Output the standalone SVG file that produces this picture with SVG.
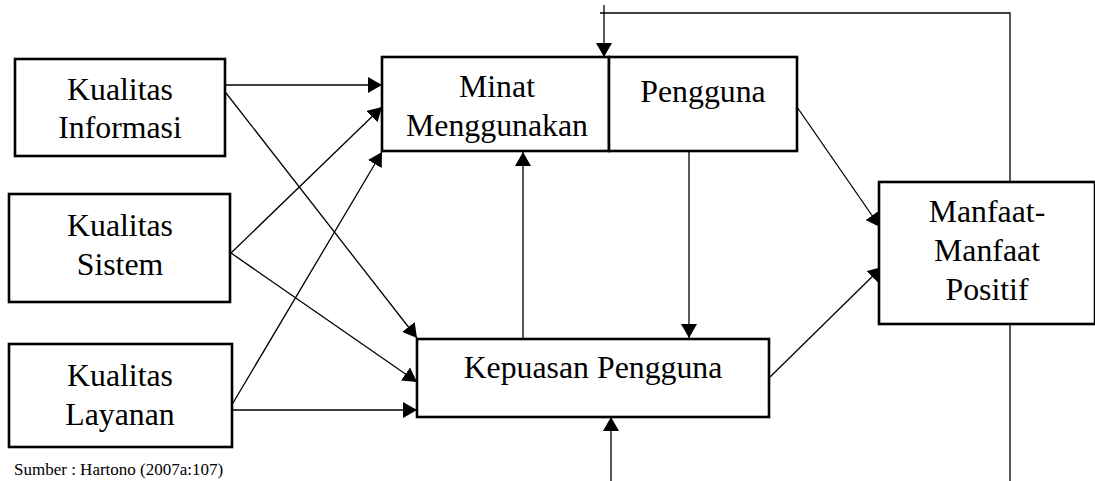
<svg xmlns="http://www.w3.org/2000/svg" width="1095" height="481" viewBox="0 0 1095 481">
<style>
.box{fill:#fff;stroke:#000;stroke-width:2.6}
.t{font-family:"Liberation Serif","Times New Roman",serif;font-size:31.8px;fill:#000;text-anchor:middle}
.src{font-family:"Liberation Serif","Times New Roman",serif;font-size:17px;fill:#000}
.c{stroke:#000;stroke-width:1.3;fill:none}
.a{marker-end:url(#ah)}
</style>
<defs>
<marker id="ah" markerUnits="userSpaceOnUse" markerWidth="15" markerHeight="16" refX="14" refY="8" orient="auto" viewBox="0 0 15 16">
<path d="M0,0 L14,8 L0,16 z" fill="#000"/>
</marker>
</defs>
<rect width="1095" height="481" fill="#fff"/>
<g id="connectors">
<line class="c a" x1="225" y1="85" x2="382" y2="85"/>
<line class="c a" x1="226" y1="93" x2="417" y2="338"/>
<line class="c a" x1="231" y1="253" x2="382" y2="107"/>
<line class="c a" x1="231" y1="253" x2="417" y2="382"/>
<line class="c a" x1="233" y1="403" x2="382" y2="152"/>
<line class="c a" x1="232" y1="410" x2="417" y2="410"/>
<line class="c a" x1="523" y1="339" x2="523" y2="152"/>
<line class="c a" x1="689" y1="151" x2="689" y2="338"/>
<line class="c a" x1="611" y1="481" x2="611" y2="417"/>
<line class="c a" x1="797" y1="107" x2="880" y2="227"/>
<line class="c a" x1="770" y1="377" x2="882" y2="267"/>
<polyline class="c" points="600,13 1010,13 1010,184"/>
<line class="c" x1="1010" y1="322" x2="1010" y2="481"/>
<line class="c a" x1="604" y1="5" x2="604" y2="57"/>
</g>
<g id="kualitas-informasi">
<rect class="box" x="15" y="59" width="210" height="97"/>
<text class="t" x="120" y="100">Kualitas</text>
<text class="t" x="120" y="138">Informasi</text>
</g>
<g id="kualitas-sistem">
<rect class="box" x="9" y="194" width="221" height="108"/>
<text class="t" x="120" y="236">Kualitas</text>
<text class="t" x="120" y="275">Sistem</text>
</g>
<g id="kualitas-layanan">
<rect class="box" x="9" y="344" width="223" height="103"/>
<text class="t" x="120" y="386">Kualitas</text>
<text class="t" x="120" y="425">Layanan</text>
</g>
<g id="minat-menggunakan">
<rect class="box" x="382" y="57" width="227" height="94"/>
<text class="t" x="497" y="97">Minat</text>
<text class="t" x="497" y="136">Menggunakan</text>
</g>
<g id="pengguna">
<rect class="box" x="609" y="57" width="188" height="94"/>
<text class="t" x="703" y="102">Pengguna</text>
</g>
<g id="kepuasan-pengguna">
<rect class="box" x="417" y="339" width="352" height="78"/>
<text class="t" x="593" y="378">Kepuasan Pengguna</text>
</g>
<g id="manfaat-positif">
<rect class="box" x="879" y="182" width="216" height="142"/>
<text class="t" x="987" y="222">Manfaat-</text>
<text class="t" x="987" y="261">Manfaat</text>
<text class="t" x="987" y="300">Positif</text>
</g>
<text class="src" x="14" y="475">Sumber : Hartono (2007a:107)</text>
</svg>
